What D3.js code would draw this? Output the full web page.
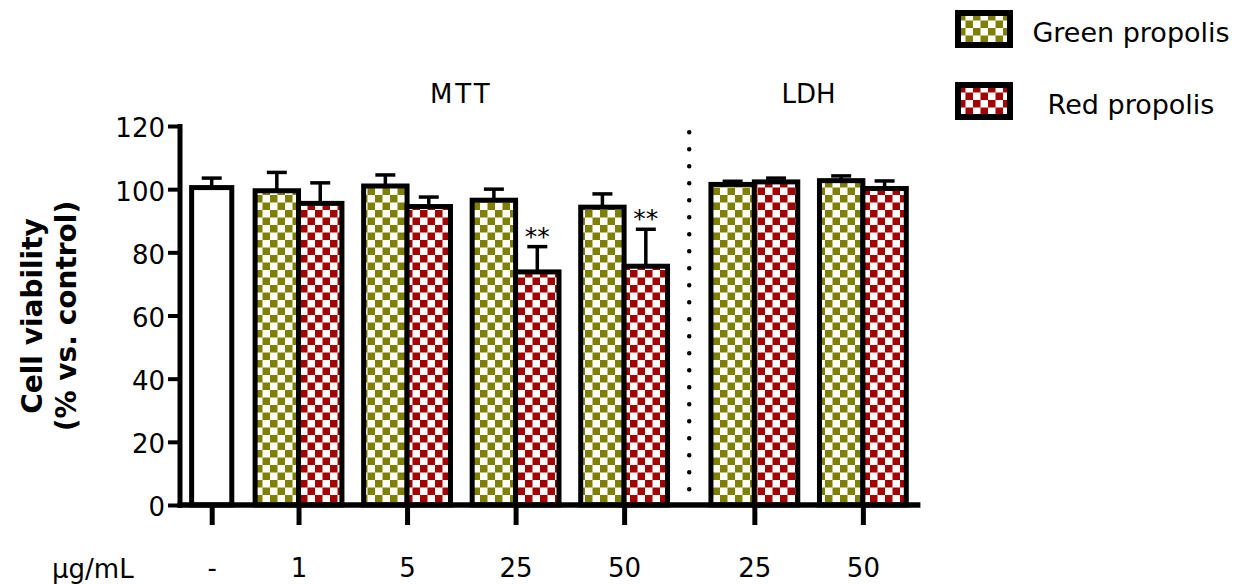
<!DOCTYPE html>
<html>
<head>
<meta charset="utf-8">
<script src="https://cdn.jsdelivr.net/npm/d3@7"></script>
<style>
  body { margin: 0; background: #fff; }
  text { font-family: "DejaVu Sans", sans-serif; fill: #000; }
</style>
</head>
<body>
<div id="chart"></div>
<script>
// doses on the x axis
var doseLabels = ["-", "1", "5", "25", "50", "25", "50"];
var dosePos = [0.2, 1, 2, 3, 4, 5.2, 6.2];
var assayNames = ["MTT", "LDH"];
var assayPos = [2.5, 5.7];
var yTicks = [0, 20, 40, 60, 80, 100, 120];

// control (untreated)
var controlValue = 100.5;
var controlErr = 3;

// treated groups, one entry per dose after the control
var greenValues = [99.5, 101, 96.5, 94.3, 101.5, 102.7];
var greenErr = [5.8, 3.5, 3.5, 4.2, 1, 1.5];
var redValues = [95.5, 94.5, 73.8, 75.6, 102.3, 100.2];
var redErr = [6.5, 3, 8, 11.7, 1.2, 2.4];
var redSig = ["", "", "**", "**", "", ""];

var seriesNames = ["Green propolis", "Red propolis"];
var seriesColors = ["#808000", "#a50000"];

var width = 1250, height = 584;

var svg = d3.select("#chart")
    .append("svg")
    .attr("width", width)
    .attr("height", height);

// checkerboard fills
var defs = svg.append("defs");
seriesColors.forEach(function (c, i) {
    var p = defs.append("pattern")
        .attr("id", "check" + i)
        .attr("patternUnits", "userSpaceOnUse")
        .attr("width", 15)
        .attr("height", 15);
    p.append("rect").attr("width", 15).attr("height", 15).attr("fill", "#fff");
    p.append("rect").attr("width", 7.5).attr("height", 7.5).attr("fill", c);
    p.append("rect").attr("x", 7.5).attr("y", 7.5).attr("width", 7.5).attr("height", 7.5).attr("fill", c);
});

var x = d3.scaleLinear().domain([0, 6.8]).range([190, 928]);
var y = d3.scaleLinear().domain([0, 120]).range([505, 126]);
var axisX = 180;
var barW = x(0.4) - x(0);

// treated bar data
var bars = [];
greenValues.forEach(function (v, i) {
    bars.push({ pos: dosePos[i + 1], side: -1, value: v, err: greenErr[i], s: 0, sig: "" });
    bars.push({ pos: dosePos[i + 1], side: 0, value: redValues[i], err: redErr[i], s: 1, sig: redSig[i] });
});

// error bars (up only)
var eb = svg.append("g").attr("stroke", "#000").attr("stroke-width", 3.5);
function errBar(cx, v, e) {
    eb.append("line").attr("x1", cx).attr("x2", cx).attr("y1", y(v)).attr("y2", y(v + e));
    eb.append("line").attr("x1", cx - 10).attr("x2", cx + 10).attr("y1", y(v + e)).attr("y2", y(v + e));
}
errBar(x(dosePos[0]), controlValue, controlErr);
bars.forEach(function (d) {
    errBar(x(d.pos) + d.side * barW + barW / 2, d.value, d.err);
});

// control bar
svg.append("rect")
    .attr("x", x(dosePos[0]) - (x(0.37) - x(0)) / 2)
    .attr("width", x(0.37) - x(0))
    .attr("y", y(controlValue))
    .attr("height", y(0) - y(controlValue))
    .attr("fill", "#fff")
    .attr("stroke", "#000")
    .attr("stroke-width", 5);

svg.append("g").selectAll("rect")
    .data(bars)
    .enter().append("rect")
    .attr("x", function (d) { return x(d.pos) + d.side * barW; })
    .attr("width", barW)
    .attr("y", function (d) { return y(d.value); })
    .attr("height", function (d) { return y(0) - y(d.value); })
    .attr("fill", function (d) { return "url(#check" + d.s + ")"; })
    .attr("stroke", "#000")
    .attr("stroke-width", 5);

// significance marks
svg.append("g").selectAll("text")
    .data(bars.filter(function (d) { return d.sig; }))
    .enter().append("text")
    .attr("x", function (d) { return x(d.pos) + barW / 2; })
    .attr("y", function (d) { return y(d.value + d.err) - 2; })
    .attr("text-anchor", "middle")
    .style("font-size", "25px")
    .text(function (d) { return d.sig; });

// dotted separator between MTT and LDH
svg.append("line")
    .attr("x1", x(4.6)).attr("x2", x(4.6))
    .attr("y1", y(118)).attr("y2", y(1))
    .attr("stroke", "#000")
    .attr("stroke-width", 4.5)
    .attr("stroke-linecap", "round")
    .attr("stroke-dasharray", "0 17");

// y axis
var yAxis = d3.axisLeft(y).tickValues(yTicks).tickSize(12).tickSizeOuter(0).tickPadding(3);
var gy = svg.append("g")
    .attr("transform", "translate(" + axisX + ",0)")
    .call(yAxis);
gy.select(".domain").remove();
gy.selectAll(".tick line").attr("stroke", "#000").attr("stroke-width", 4);
gy.selectAll(".tick text").style("font-size", "26px").attr("dy", "0.42em");
svg.append("line")
    .attr("x1", axisX).attr("x2", axisX)
    .attr("y1", y(120) - 2).attr("y2", y(0) + 3)
    .attr("stroke", "#000").attr("stroke-width", 5);

// x axis
var xAxis = d3.axisBottom(x).tickValues(dosePos).tickSize(20).tickSizeOuter(0)
    .tickFormat(function (d, i) { return doseLabels[i]; });
var gx = svg.append("g")
    .attr("transform", "translate(0," + y(0) + ")")
    .call(xAxis);
gx.select(".domain").remove();
gx.selectAll(".tick line").attr("stroke", "#000").attr("stroke-width", 5);
gx.selectAll(".tick text").style("font-size", "26px").attr("y", 54).attr("dy", "0.71em");
svg.append("line")
    .attr("x1", axisX - 2.5).attr("x2", x(6.73))
    .attr("y1", y(0)).attr("y2", y(0))
    .attr("stroke", "#000").attr("stroke-width", 5.5);

svg.append("text")
    .attr("x", 52).attr("y", 578)
    .style("font-size", "26px")
    .text("\u00b5g/mL");

// assay labels
svg.append("g").selectAll("text")
    .data(assayNames)
    .enter().append("text")
    .attr("x", function (d, i) { return x(assayPos[i]); })
    .attr("y", 103)
    .attr("text-anchor", "middle")
    .style("font-size", "26px")
    .style("letter-spacing", function (d, i) { return i === 0 ? "3px" : "0px"; })
    .text(function (d) { return d; });

// y title
var yt = svg.append("text")
    .attr("transform", "translate(42,316) rotate(-90)")
    .attr("text-anchor", "middle")
    .style("font-size", "28px")
    .style("font-weight", "bold");
yt.append("tspan").attr("x", 0).attr("y", 0).text("Cell viability");
yt.append("tspan").attr("x", 0).attr("y", 34).text("(% vs. control)");

// legend
var lg = svg.append("g").selectAll("g")
    .data(seriesNames)
    .enter().append("g")
    .attr("transform", function (d, i) { return "translate(958," + (13 + i * 72) + ")"; });
lg.append("rect")
    .attr("width", 52).attr("height", 32)
    .attr("fill", function (d, i) { return "url(#check" + i + ")"; })
    .attr("stroke", "#000")
    .attr("stroke-width", 6);
lg.append("text")
    .attr("x", 173).attr("y", 29)
    .attr("text-anchor", "middle")
    .style("font-size", "27px")
    .text(function (d) { return d; });
</script>
</body>
</html>
